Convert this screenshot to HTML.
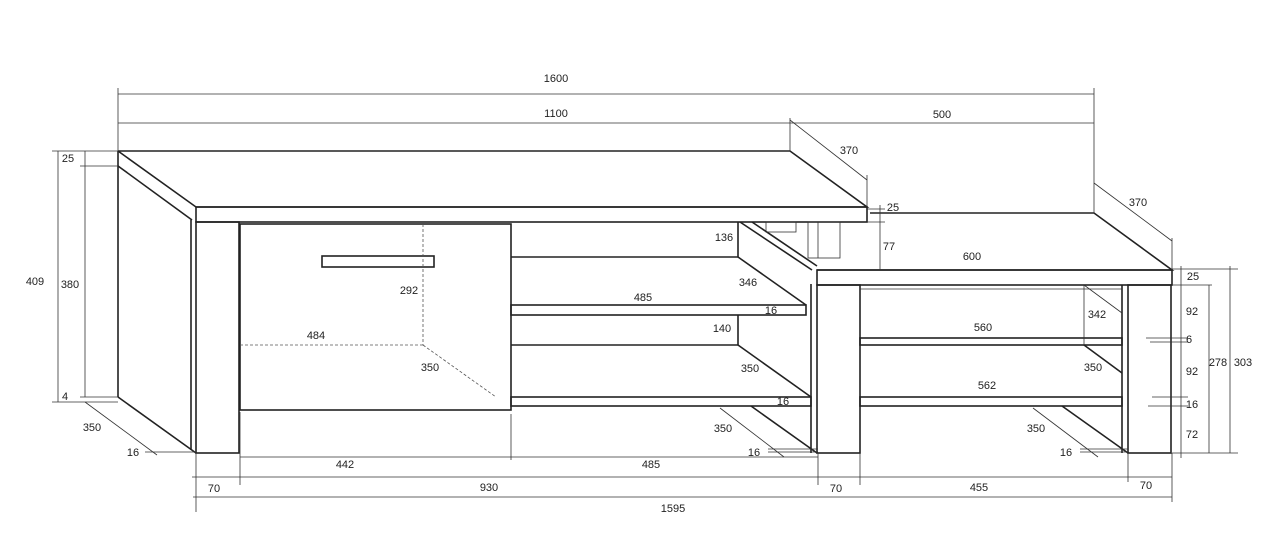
<!DOCTYPE html>
<html><head><meta charset="utf-8"><style>
html,body{margin:0;padding:0;background:#fff;}
svg{display:block;}
text{font-family:"Liberation Sans",sans-serif;font-size:11px;fill:#222;text-anchor:middle;}
.t{stroke:#222;stroke-width:1.6;fill:none;}
.d{stroke:#333;stroke-width:0.8;fill:none;}
.ds{stroke:#555;stroke-width:0.8;fill:none;stroke-dasharray:3,2;}
</style></head><body>
<svg width="1269" height="545" viewBox="0 0 1269 545" xmlns="http://www.w3.org/2000/svg">
<polyline class="t" points="118,151 790,151 867,207 196,207 118,151"/>
<rect class="t" x="196" y="207" width="671" height="15"/>
<line class="t" x1="118" y1="166" x2="192" y2="220"/>
<line class="t" x1="118" y1="151" x2="118" y2="397"/>
<line class="t" x1="118" y1="397" x2="196" y2="453"/>
<line class="t" x1="191" y1="220" x2="191" y2="450"/>
<rect class="t" x="196" y="222" width="43" height="231"/>
<rect class="t" x="240" y="224" width="271" height="186"/>
<rect class="t" x="322" y="256" width="112" height="11"/>
<line class="ds" x1="423" y1="224" x2="423" y2="345"/>
<line class="ds" x1="240" y1="345" x2="423" y2="345"/>
<line class="ds" x1="423" y1="345" x2="496" y2="397"/>
<line class="t" x1="511" y1="257" x2="738" y2="257"/>
<rect class="t" x="511" y="305" width="295" height="10"/>
<line class="t" x1="511" y1="345" x2="738" y2="345"/>
<rect class="t" x="511" y="397" width="300" height="9"/>
<line class="t" x1="738" y1="222" x2="738" y2="257"/>
<line class="t" x1="738" y1="315" x2="738" y2="345"/>
<line class="t" x1="738" y1="257" x2="806" y2="305"/>
<line class="t" x1="738" y1="345" x2="811" y2="397"/>
<line class="t" x1="751" y1="406" x2="817" y2="453"/>
<line class="t" x1="740" y1="222" x2="812" y2="270"/>
<line class="t" x1="752" y1="222" x2="817" y2="266"/>
<line class="t" x1="811" y1="284" x2="811" y2="453"/>
<rect class="d" x="808" y="222" width="32" height="36"/>
<line class="d" x1="818" y1="222" x2="818" y2="258"/>
<rect class="d" x="766" y="222" width="30" height="10"/>
<polyline class="t" points="817,270 1172,270 1094,213 870,213"/>
<rect class="t" x="817" y="270" width="355" height="15"/>
<rect class="t" x="817" y="285" width="43" height="168"/>
<rect class="t" x="1128" y="285" width="43" height="168"/>
<line class="t" x1="1122" y1="285" x2="1122" y2="453"/>
<line class="d" x1="860" y1="289" x2="1122" y2="289"/>
<rect class="t" x="860" y="338" width="262" height="7"/>
<rect class="t" x="860" y="397" width="262" height="9"/>
<line class="d" x1="1084" y1="285" x2="1084" y2="345"/>
<line class="d" x1="1084" y1="285" x2="1122" y2="313"/>
<line class="t" x1="1084" y1="345" x2="1122" y2="373"/>
<line class="t" x1="1062" y1="406" x2="1128" y2="453"/>
<line class="d" x1="118" y1="94" x2="1094" y2="94"/>
<line class="d" x1="118" y1="88" x2="118" y2="151"/>
<line class="d" x1="1094" y1="88" x2="1094" y2="213"/>
<line class="d" x1="118" y1="123" x2="1094" y2="123"/>
<line class="d" x1="790" y1="118" x2="790" y2="151"/>
<line class="d" x1="790" y1="120" x2="867" y2="180"/>
<line class="d" x1="867" y1="175" x2="867" y2="207"/>
<line class="d" x1="1094" y1="183" x2="1172" y2="241"/>
<line class="d" x1="1172" y1="238" x2="1172" y2="270"/>
<line class="d" x1="867" y1="209" x2="885" y2="209"/>
<line class="d" x1="867" y1="222" x2="885" y2="222"/>
<line class="d" x1="880" y1="205" x2="880" y2="270"/>
<line class="d" x1="58" y1="151" x2="58" y2="402"/>
<line class="d" x1="52" y1="151" x2="118" y2="151"/>
<line class="d" x1="52" y1="402" x2="118" y2="402"/>
<line class="d" x1="85" y1="151" x2="85" y2="397"/>
<line class="d" x1="80" y1="166" x2="118" y2="166"/>
<line class="d" x1="80" y1="397" x2="118" y2="397"/>
<line class="d" x1="85" y1="402" x2="157" y2="455"/>
<line class="d" x1="145" y1="452" x2="196" y2="452"/>
<line class="d" x1="240" y1="457" x2="818" y2="457"/>
<line class="d" x1="240" y1="412" x2="240" y2="485"/>
<line class="d" x1="511" y1="414" x2="511" y2="460"/>
<line class="d" x1="818" y1="453" x2="818" y2="485"/>
<line class="d" x1="192" y1="477" x2="1172" y2="477"/>
<line class="d" x1="196" y1="453" x2="196" y2="512"/>
<line class="d" x1="860" y1="453" x2="860" y2="485"/>
<line class="d" x1="1128" y1="453" x2="1128" y2="482"/>
<line class="d" x1="1172" y1="453" x2="1172" y2="502"/>
<line class="d" x1="193" y1="497" x2="1172" y2="497"/>
<line class="d" x1="720" y1="408" x2="784" y2="457"/>
<line class="d" x1="768" y1="449" x2="818" y2="449"/>
<line class="d" x1="768" y1="452" x2="818" y2="452"/>
<line class="d" x1="1033" y1="408" x2="1098" y2="457"/>
<line class="d" x1="1080" y1="449" x2="1128" y2="449"/>
<line class="d" x1="1080" y1="452" x2="1128" y2="452"/>
<line class="d" x1="1181" y1="266" x2="1181" y2="458"/>
<line class="d" x1="1209" y1="285" x2="1209" y2="453"/>
<line class="d" x1="1230" y1="266" x2="1230" y2="453"/>
<line class="d" x1="1172" y1="269" x2="1238" y2="269"/>
<line class="d" x1="1172" y1="285" x2="1212" y2="285"/>
<line class="d" x1="1172" y1="453" x2="1238" y2="453"/>
<line class="d" x1="1146" y1="338" x2="1188" y2="338"/>
<line class="d" x1="1150" y1="342" x2="1188" y2="342"/>
<line class="d" x1="1152" y1="397" x2="1188" y2="397"/>
<line class="d" x1="1148" y1="406" x2="1188" y2="406"/>
<text x="556" y="82">1600</text>
<text x="556" y="117">1100</text>
<text x="942" y="118">500</text>
<text x="849" y="154">370</text>
<text x="1138" y="206">370</text>
<text x="893" y="211">25</text>
<text x="889" y="250">77</text>
<text x="972" y="260">600</text>
<text x="35" y="285">409</text>
<text x="70" y="288">380</text>
<text x="68" y="162">25</text>
<text x="65" y="400">4</text>
<text x="92" y="431">350</text>
<text x="133" y="456">16</text>
<text x="409" y="294">292</text>
<text x="316" y="339">484</text>
<text x="430" y="371">350</text>
<text x="724" y="241">136</text>
<text x="748" y="286">346</text>
<text x="643" y="301">485</text>
<text x="771" y="314">16</text>
<text x="722" y="332">140</text>
<text x="750" y="372">350</text>
<text x="783" y="405">16</text>
<text x="723" y="432">350</text>
<text x="754" y="456">16</text>
<text x="983" y="331">560</text>
<text x="1097" y="318">342</text>
<text x="1093" y="371">350</text>
<text x="987" y="389">562</text>
<text x="1036" y="432">350</text>
<text x="1066" y="456">16</text>
<text x="1193" y="280">25</text>
<text x="1192" y="315">92</text>
<text x="1189" y="343">6</text>
<text x="1192" y="375">92</text>
<text x="1192" y="408">16</text>
<text x="1192" y="438">72</text>
<text x="1218" y="366">278</text>
<text x="1243" y="366">303</text>
<text x="345" y="468">442</text>
<text x="651" y="468">485</text>
<text x="214" y="492">70</text>
<text x="489" y="491">930</text>
<text x="836" y="492">70</text>
<text x="979" y="491">455</text>
<text x="1146" y="489">70</text>
<text x="673" y="512">1595</text>
</svg>
</body></html>
